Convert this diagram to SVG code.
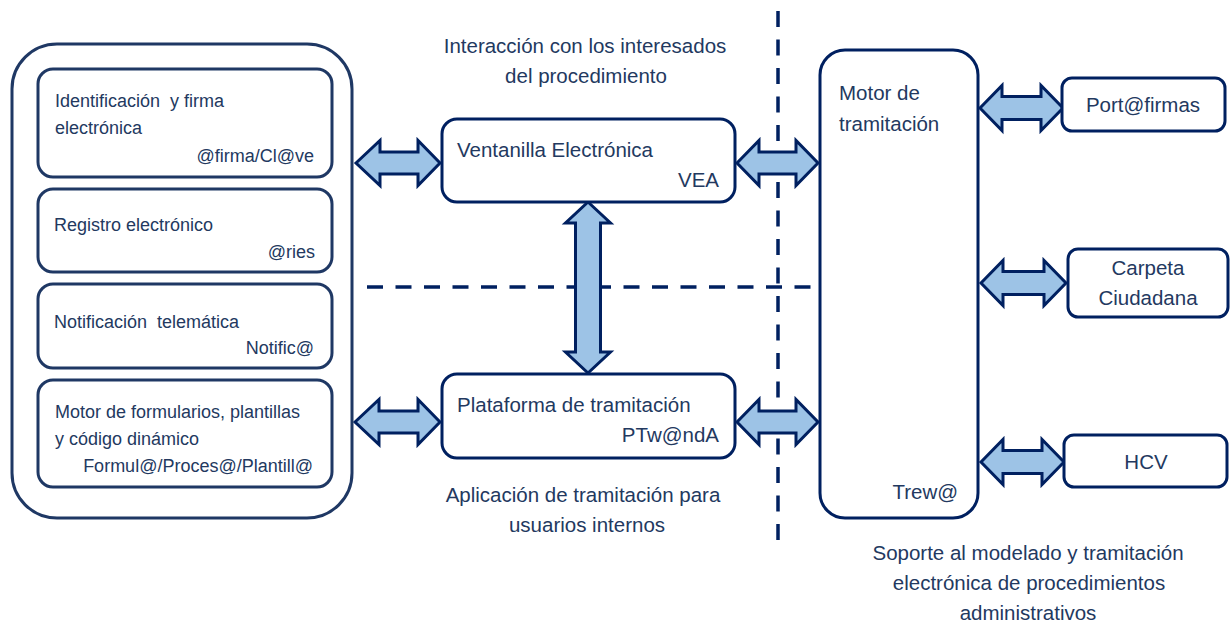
<svg xmlns="http://www.w3.org/2000/svg" width="1231" height="624" viewBox="0 0 1231 624">
<style>
.box{fill:#fff;stroke:#1F3864;stroke-width:3}
.nbox{fill:#fff;stroke:#002060;stroke-width:3}
.arr{fill:#9DC3E6;stroke:#002060;stroke-width:3;stroke-linejoin:miter}
.dash{stroke:#002060;stroke-width:3.5;stroke-dasharray:16 12.5;fill:none}
text{font-family:"Liberation Sans",Arial,sans-serif;fill:#23395F}
.s{font-size:18px}
.m{font-size:20.5px}
.e{text-anchor:end}
.c{text-anchor:middle}
</style>
<rect width="1231" height="624" fill="#fff"/>
<g id="connectors">
<line class="dash" x1="778" y1="11" x2="778" y2="545"/>
<line class="dash" x1="367" y1="287" x2="820" y2="287"/>
<polygon class="arr" points="356,163 380,140.5 380,152 418,152 418,140.5 440,163 418,185.5 418,174 380,174 380,185.5"/>
<polygon class="arr" points="355,422 379,399.5 379,411 418,411 418,399.5 440,422 418,444.5 418,433 379,433 379,444.5"/>
<polygon class="arr" points="737,163 759,140.5 759,152 796,152 796,140.5 818,163 796,185.5 796,174 759,174 759,185.5"/>
<polygon class="arr" points="737,422 759,399.5 759,411 796,411 796,399.5 818,422 796,444.5 796,433 759,433 759,444.5"/>
<polygon class="arr" points="588,202 610.5,223 600.5,223 600.5,352 610.5,352 588,373 565.5,352 575.5,352 575.5,223 565.5,223"/>
<polygon class="arr" points="980,108 1002,85.5 1002,96.5 1041,96.5 1041,85.5 1063,108 1041,130.5 1041,119.5 1002,119.5 1002,130.5"/>
<polygon class="arr" points="981,283 1003,260.5 1003,271.5 1044,271.5 1044,260.5 1066,283 1044,305.5 1044,294.5 1003,294.5 1003,305.5"/>
<polygon class="arr" points="981,462 1003,439.5 1003,450.5 1042,450.5 1042,439.5 1064,462 1042,484.5 1042,473.5 1003,473.5 1003,484.5"/>
</g>
<g id="container">
<rect class="box" x="12" y="44" width="340" height="474" rx="45"/>
</g>
<g id="firma">
<rect class="box" x="38" y="69" width="294" height="108" rx="15"/>
<text class="s" x="55" y="107">Identificación &#160;y firma</text>
<text class="s" x="55" y="134">electrónica</text>
<text class="s e" x="314" y="162">@firma/Cl@ve</text>
</g>
<g id="registro">
<rect class="box" x="38" y="189" width="294" height="83" rx="15"/>
<text class="s" x="54" y="231">Registro electrónico</text>
<text class="s e" x="315" y="258">@ries</text>
</g>
<g id="notifica">
<rect class="box" x="38" y="284" width="294" height="84" rx="15"/>
<text class="s" x="54" y="328">Notificación &#160;telemática</text>
<text class="s e" x="314" y="354">Notific@</text>
</g>
<g id="formularios">
<rect class="box" x="38" y="380" width="294" height="107" rx="15"/>
<text class="s" x="55" y="418">Motor de formularios, plantillas</text>
<text class="s" x="55" y="445">y código dinámico</text>
<text class="s e" x="313" y="472">Formul@/Proces@/Plantill@</text>
</g>
<g id="vea">
<rect class="nbox" x="442" y="119" width="293" height="83" rx="15"/>
<text class="m" x="457" y="157">Ventanilla Electrónica</text>
<text class="m e" x="719" y="187">VEA</text>
</g>
<g id="ptwanda">
<rect class="nbox" x="442" y="374" width="293" height="84" rx="15"/>
<text class="m" x="457" y="412">Plataforma de tramitación</text>
<text class="m e" x="719" y="442">PTw@ndA</text>
</g>
<g id="trewa">
<rect class="nbox" x="820" y="50" width="158" height="468" rx="25"/>
<text class="m" x="839" y="100">Motor de</text>
<text class="m" x="839" y="131">tramitación</text>
<text class="m e" x="958" y="499">Trew@</text>
</g>
<g id="portafirmas">
<rect class="nbox" x="1062" y="78" width="163" height="53" rx="10"/>
<text class="m c" x="1143" y="112">Port@firmas</text>
</g>
<g id="carpeta">
<rect class="nbox" x="1068" y="249" width="160" height="68" rx="10"/>
<text class="m c" x="1148" y="275">Carpeta</text>
<text class="m c" x="1148" y="305">Ciudadana</text>
</g>
<g id="hcv">
<rect class="nbox" x="1064" y="435" width="163" height="52" rx="10"/>
<text class="m c" x="1146" y="469">HCV</text>
</g>
<g id="labels">
<text class="m c" x="585" y="53">Interacción con los interesados</text>
<text class="m c" x="586" y="83">del procedimiento</text>
<text class="m c" x="583" y="502">Aplicación de tramitación para</text>
<text class="m c" x="587" y="532">usuarios internos</text>
<text class="m c" x="1028" y="560">Soporte al modelado y tramitación</text>
<text class="m c" x="1029" y="590">electrónica de procedimientos</text>
<text class="m c" x="1028" y="620">administrativos</text>
</g>
</svg>
